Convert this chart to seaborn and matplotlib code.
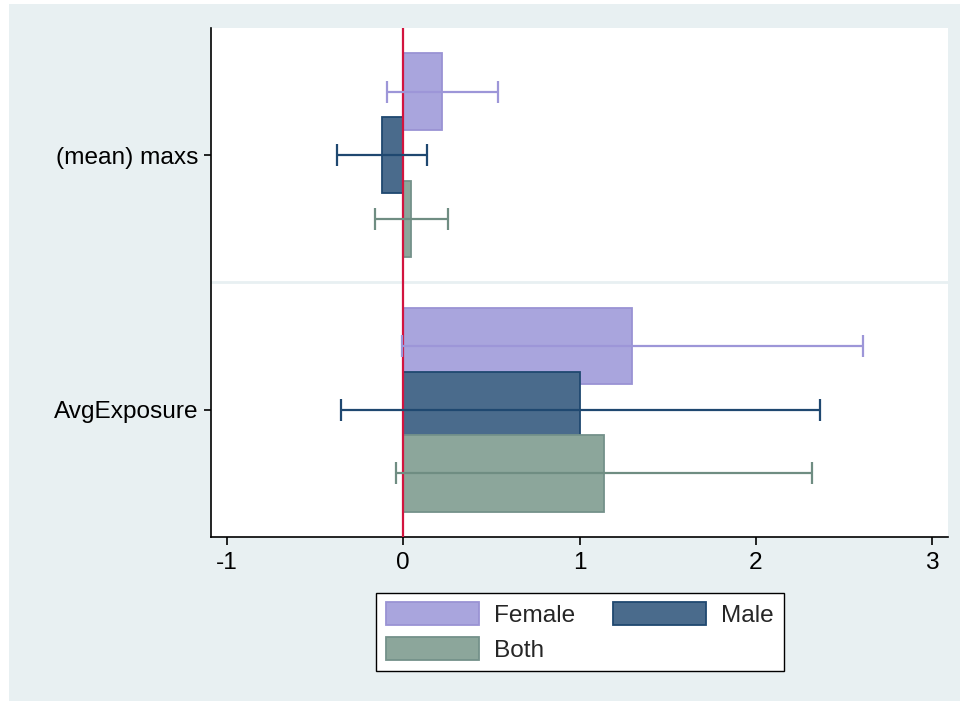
import numpy as np
import pandas as pd
import matplotlib
matplotlib.use("Agg")
import matplotlib.pyplot as plt
import seaborn as sns
from matplotlib.patches import Rectangle, Patch

# Coefficients and 95% confidence bounds by group
variables = ["(mean) maxs", "AvgExposure"]
groups = ["Female", "Male", "Both"]
coef_maxs = [0.22, -0.12, 0.045]
lo_maxs = [-0.09, -0.375, -0.16]
hi_maxs = [0.54, 0.135, 0.255]
coef_avg = [1.30, 1.005, 1.14]
lo_avg = [-0.005, -0.35, -0.04]
hi_avg = [2.61, 2.365, 2.32]
x_ticks = [-1, 0, 1, 2, 3]

fill_colors = {"Female": "#a9a5dd", "Male": "#4a6b8c", "Both": "#8ca69b"}
edge_colors = {"Female": "#9a93d4", "Male": "#1f4870", "Both": "#74918a"}
ci_colors = {"Female": "#9d96d8", "Male": "#1f4870", "Both": "#6f8d82"}
panel_color = "#e8f0f2"
FS = 17.6

rows = []
for var, coefs, los, his in [(variables[0], coef_maxs, lo_maxs, hi_maxs),
                             (variables[1], coef_avg, lo_avg, hi_avg)]:
    for g, c, lo, hi in zip(groups, coefs, los, his):
        rows.append({"variable": var, "group": g, "coef": c, "lo": lo, "hi": hi})
df = pd.DataFrame(rows)

sns.set_style("white")
plt.rcParams["font.family"] = ["Liberation Sans", "DejaVu Sans"]

fig = plt.figure(figsize=(9.61, 7.01), dpi=100, facecolor="white")
fig.patches.append(Rectangle((9 / 961, 0), (960 - 9) / 961, (701 - 4) / 701,
                             transform=fig.transFigure, facecolor=panel_color,
                             edgecolor="none", zorder=-10))
ax = fig.add_axes([211 / 961, (701 - 537) / 701, (948 - 211) / 961, (537 - 28) / 701])
ax.set_facecolor("white")

sns.barplot(data=df, y="variable", x="coef", hue="group", order=variables,
            hue_order=groups, orient="h", palette=fill_colors, width=0.75,
            errorbar=None, legend=False, saturation=1, ax=ax)

# Widen each bar so neighbouring bars overlap slightly, then add CIs
for g, cont in zip(groups, ax.containers):
    for j, bar in enumerate(cont.patches):
        yc = bar.get_y() + bar.get_height() / 2
        bar.set_y(yc - 0.15)
        bar.set_height(0.3)
        bar.set_edgecolor(edge_colors[g])
        bar.set_linewidth(1.3)
        sub = df[(df.group == g) & (df.variable == variables[j])].iloc[0]
        ax.errorbar(x=sub.coef, y=yc,
                    xerr=[[sub.coef - sub.lo], [sub.hi - sub.coef]],
                    fmt="none", ecolor=ci_colors[g], elinewidth=1.6,
                    capsize=8, capthick=1.6, zorder=4)

ax.axvline(0, color="#d2143f", lw=1.6, zorder=3)
ax.axhline(0.5, color=panel_color, lw=2, zorder=0.5)

ax.set_xlim(-1.09, 3.09)
ax.set_ylim(1.5, -0.5)
ax.set_xticks(x_ticks)
ax.set_xticklabels([str(t) for t in x_ticks])
ax.set_xlabel("")
ax.set_ylabel("")

for s in ["top", "right"]:
    ax.spines[s].set_visible(False)
for s in ["left", "bottom"]:
    ax.spines[s].set_color("black")
    ax.spines[s].set_linewidth(1.2)

ax.tick_params(axis="x", length=6, width=1.2, pad=5, labelsize=FS, colors="black",
               bottom=True)
ax.tick_params(axis="y", length=5, width=1.2, pad=4, labelsize=FS, colors="black",
               left=True)

handles = [Patch(facecolor=fill_colors[g], edgecolor=edge_colors[g], linewidth=1.3)
           for g in groups]
order = [0, 2, 1]
leg = fig.legend([handles[i] for i in order], [groups[i] for i in order],
                 ncol=2, loc="center", bbox_to_anchor=(580 / 961, 1 - 632 / 701),
                 frameon=True, fancybox=False, edgecolor="black", facecolor="white",
                 framealpha=1, fontsize=FS, handlelength=3.8, handleheight=1.05,
                 handletextpad=0.62, columnspacing=1.55, labelspacing=0.4,
                 borderpad=0.4)
leg.get_frame().set_linewidth(1.0)

fig.savefig("out.png", dpi=100, facecolor="white")
